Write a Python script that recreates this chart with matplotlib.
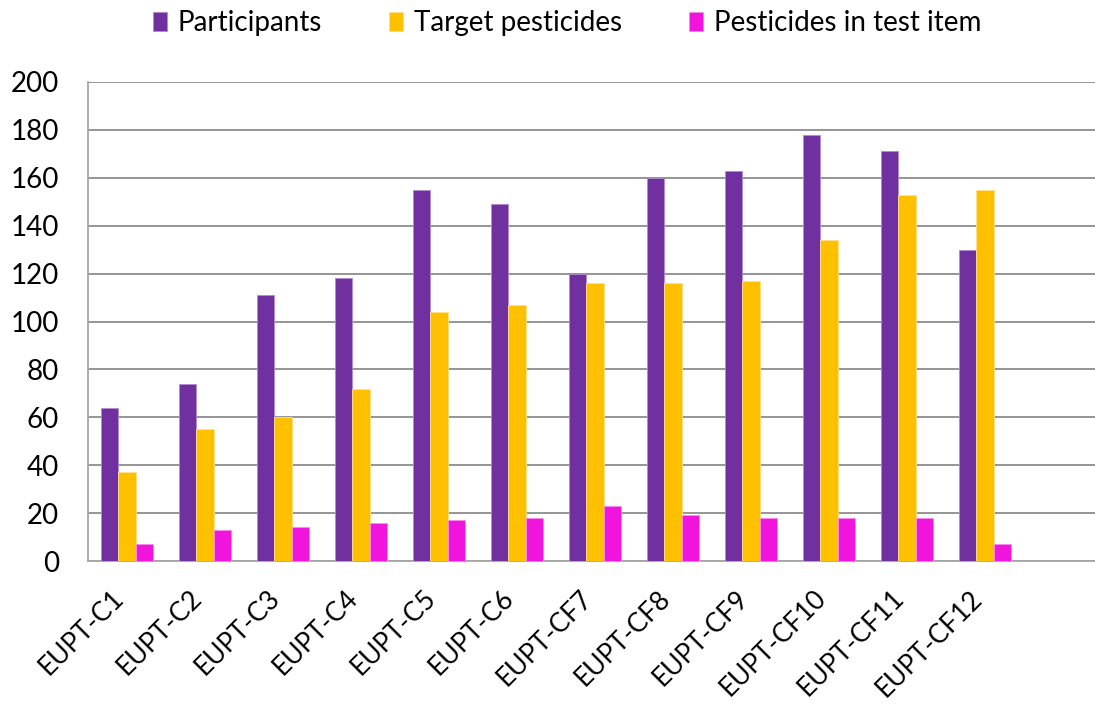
import matplotlib
matplotlib.use("Agg")
import matplotlib.pyplot as plt
import matplotlib.transforms as mtransforms
import numpy as np

categories = ["EUPT-C1", "EUPT-C2", "EUPT-C3", "EUPT-C4", "EUPT-C5", "EUPT-C6",
              "EUPT-CF7", "EUPT-CF8", "EUPT-CF9", "EUPT-CF10", "EUPT-CF11", "EUPT-CF12"]
participants = [64, 74, 111, 118, 155, 149, 120, 160, 163, 178, 171, 130]
target_pesticides = [37, 55, 60, 72, 104, 107, 116, 116, 117, 134, 153, 155]
pesticides_in_item = [7, 13, 14, 16, 17, 18, 23, 19, 18, 18, 18, 7]
series_names = ["Participants", "Target pesticides", "Pesticides in test item"]
colors = ["#7030A0", "#FFC000", "#F014DC"]
edges = ["#B08CCB", "#FFE08A", "#F88CEE"]

plt.rcParams['font.family'] = ['Lato', 'DejaVu Sans']

W, H = 1095, 707
fig = plt.figure(figsize=(W / 100, H / 100), dpi=100)
ax = fig.add_axes([88 / W, 1 - 561 / H, (1102 - 88) / W, (561 - 82) / H])

x = np.arange(len(categories))
w = 0.222
for i, (vals, name) in enumerate(zip([participants, target_pesticides, pesticides_in_item], series_names)):
    ax.bar(x + (i - 1) * w, vals, width=w, color=colors[i], edgecolor=edges[i],
           linewidth=0.6, label=name, zorder=3)

ax.set_xlim(-0.5, 12.5)
ax.set_ylim(0, 200)
ax.set_yticks(np.arange(0, 201, 20))
ax.yaxis.grid(True, color="#8C8C8C", linewidth=1.3, zorder=0)
ax.set_axisbelow(True)
for s in ["top", "right"]:
    ax.spines[s].set_visible(False)
ax.spines["left"].set_color("#A6A6A6")
ax.spines["left"].set_linewidth(1.3)
ax.spines["bottom"].set_color("#A6A6A6")
ax.spines["bottom"].set_linewidth(1.3)
ax.tick_params(axis="both", length=0, labelsize=20, colors="black")
ax.tick_params(axis="y", pad=21)
ax.set_xticks(x)
ax.set_xticklabels(categories, rotation=45, ha="right", va="center",
                   rotation_mode="anchor", fontsize=19)
ax.tick_params(axis="x", pad=24)
offset = mtransforms.ScaledTranslation(-5 / 72, 0, fig.dpi_scale_trans)
for lab in ax.get_xticklabels():
    lab.set_transform(lab.get_transform() + offset)

leg = fig.legend(loc="center", bbox_to_anchor=(567 / W, 1 - 23 / H), ncol=3, frameon=False,
                 fontsize=20, handlelength=0.5, handleheight=0.7, handletextpad=0.4,
                 columnspacing=2.4, borderpad=0)
fig.savefig("out.png", dpi=100, facecolor="white")
